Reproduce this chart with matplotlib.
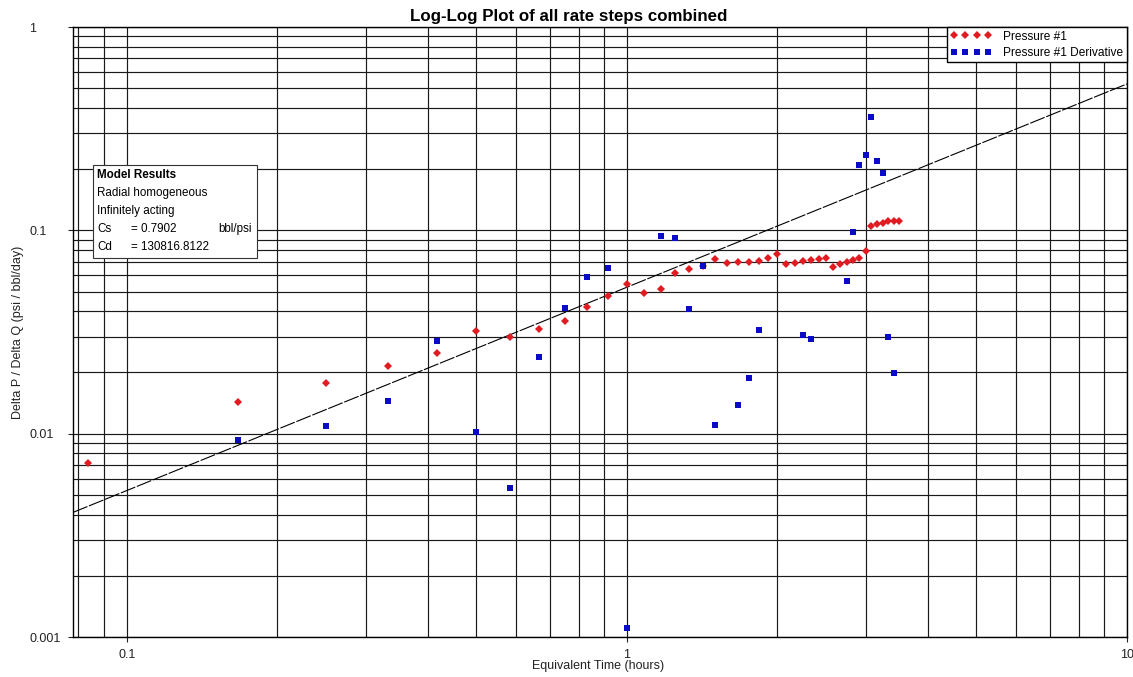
import matplotlib
matplotlib.use('Agg')
import matplotlib.pyplot as plt
from matplotlib.ticker import FixedLocator, FixedFormatter, LogLocator, NullFormatter
from matplotlib.patches import Rectangle

plt.rcParams['font.family'] = ['Liberation Sans', 'DejaVu Sans']

# Pressure #1 (red diamonds)
p_time = [0.0837, 0.167, 0.25, 0.333, 0.417, 0.5, 0.583, 0.667, 0.75, 0.833,
          0.917, 1.0, 1.083, 1.167, 1.25, 1.333, 1.417, 1.5, 1.583, 1.667,
          1.75, 1.833, 1.917, 2.0, 2.083, 2.167, 2.25, 2.333, 2.417, 2.5,
          2.583, 2.667, 2.75, 2.833, 2.917, 3.0, 3.083, 3.167, 3.25, 3.333,
          3.417, 3.5]
p_dpdq = [0.00714, 0.0143, 0.0178, 0.0214, 0.0250, 0.0321, 0.0298, 0.0328, 0.0358, 0.0420,
          0.0477, 0.0543, 0.0490, 0.0514, 0.0618, 0.0642, 0.0670, 0.0723, 0.0690, 0.0698,
          0.0698, 0.0709, 0.0733, 0.0762, 0.0680, 0.0693, 0.0706, 0.0714, 0.0725, 0.0733,
          0.0662, 0.0680, 0.0698, 0.0714, 0.0731, 0.0791, 0.1053, 0.1070, 0.1090, 0.1107,
          0.1107, 0.1107]

# Pressure #1 Derivative (blue squares)
d_time = [0.167, 0.25, 0.333, 0.417, 0.5, 0.583, 0.667, 0.75, 0.833, 0.917,
          1.0, 1.167, 1.25, 1.333, 1.417, 1.5, 1.667, 1.75, 1.833, 2.25,
          2.333, 2.75, 2.833, 2.917, 3.0, 3.083, 3.167, 3.25, 3.333, 3.417]
d_dpdq = [0.0093, 0.01086, 0.01442, 0.02844, 0.01022, 0.00542, 0.02373, 0.04148, 0.05912, 0.06526,
          0.00111, 0.0934, 0.0920, 0.0410, 0.0670, 0.01099, 0.01388, 0.01877, 0.03222, 0.03065,
          0.02929, 0.05632, 0.0977, 0.2096, 0.2347, 0.3596, 0.2185, 0.1913, 0.02987, 0.01993]

# unit-slope model line (end points)
line_t = [0.078, 10]
line_dpdq = [0.0041, 0.525]

fig = plt.figure(figsize=(11.33, 6.77), dpi=100)
ax = fig.add_axes([73 / 1133, 1 - 637 / 677, (1127 - 73) / 1133, (637 - 27) / 677])
ax.set_xscale('log')
ax.set_yscale('log')
ax.set_xlim(0.078, 10)
ax.set_ylim(0.001, 1)

ax.xaxis.set_major_locator(FixedLocator([0.1, 1, 10]))
ax.xaxis.set_major_formatter(FixedFormatter(['0.1', '1', '10']))
ax.xaxis.set_minor_locator(LogLocator(base=10, subs=range(2, 10)))
ax.xaxis.set_minor_formatter(NullFormatter())
ax.yaxis.set_major_locator(FixedLocator([0.001, 0.01, 0.1, 1]))
ax.yaxis.set_major_formatter(FixedFormatter(['0.001', '0.01', '0.1', '1']))
ax.yaxis.set_minor_locator(LogLocator(base=10, subs=range(2, 10)))
ax.yaxis.set_minor_formatter(NullFormatter())

ax.grid(True, which='both', color='#1a1a1a', linewidth=0.85)
ax.set_axisbelow(True)
ax.tick_params(which='major', direction='out', length=3.6, width=0.8, labelsize=9, colors='#222222')
ax.tick_params(which='minor', length=0)
ax.tick_params(axis='x', pad=5)
ax.tick_params(axis='y', pad=28)
for lab in ax.get_yticklabels():
    lab.set_horizontalalignment('left')
for sp in ax.spines.values():
    sp.set_color('black')
    sp.set_linewidth(1)

ax.plot(line_t, line_dpdq, color='black', linewidth=0.8, linestyle=(0, (14, 1.5)), zorder=3)

ax.plot(p_time, p_dpdq, linestyle='none', marker='D', markersize=4.2, color='#e01b22',
        markeredgewidth=0, label='Pressure #1', zorder=4)
ax.plot(d_time, d_dpdq, linestyle='none', marker='s', markersize=4.5, color='#0a0ac8',
        markeredgewidth=0, label='Pressure #1 Derivative', zorder=5)

leg = ax.legend(loc='upper right', numpoints=4, handlelength=3.4, fontsize=8.6,
                fancybox=False, framealpha=1, edgecolor='black', borderaxespad=0,
                borderpad=0.3, labelspacing=0.35, handletextpad=1.0)
leg.get_frame().set_linewidth(1)

# Model results box
fig.patches.append(Rectangle((93 / 1133, 1 - 258 / 677), 164 / 1133, 93 / 677,
                             transform=fig.transFigure, facecolor='white',
                             edgecolor='#333333', linewidth=0.8, zorder=10))
fs = 8.4
rows = [(175, 'Model Results', True), (193, 'Radial homogeneous', False),
        (211, 'Infinitely acting', False)]
for yy, txt, bold in rows:
    fig.text(97 / 1133, 1 - yy / 677, txt, fontsize=fs, va='center', ha='left',
             fontweight='bold' if bold else 'normal', zorder=11)
fig.text(97 / 1133, 1 - 229 / 677, 'Cs', fontsize=fs, va='center', zorder=11)
fig.text(131 / 1133, 1 - 229 / 677, '= 0.7902', fontsize=fs, va='center', zorder=11)
fig.text(218 / 1133, 1 - 229 / 677, 'bbl/psi', fontsize=fs, va='center', zorder=11)
fig.text(97 / 1133, 1 - 247 / 677, 'Cd', fontsize=fs, va='center', zorder=11)
fig.text(131 / 1133, 1 - 247 / 677, '= 130816.8122', fontsize=fs, va='center', zorder=11)

fig.text(569 / 1133, 1 - 16 / 677, 'Log-Log Plot of all rate steps combined',
         fontsize=12.2, fontweight='bold', ha='center', va='center')
fig.text(598 / 1133, 1 - 666 / 677, 'Equivalent Time (hours)', fontsize=9,
         ha='center', va='center', color='#222222')
fig.text(18 / 1133, 1 - 332 / 677, 'Delta P / Delta Q (psi / bbl/day)', fontsize=9,
         ha='center', va='center', rotation=90, color='#222222')

fig.savefig('out.png', dpi=100)
